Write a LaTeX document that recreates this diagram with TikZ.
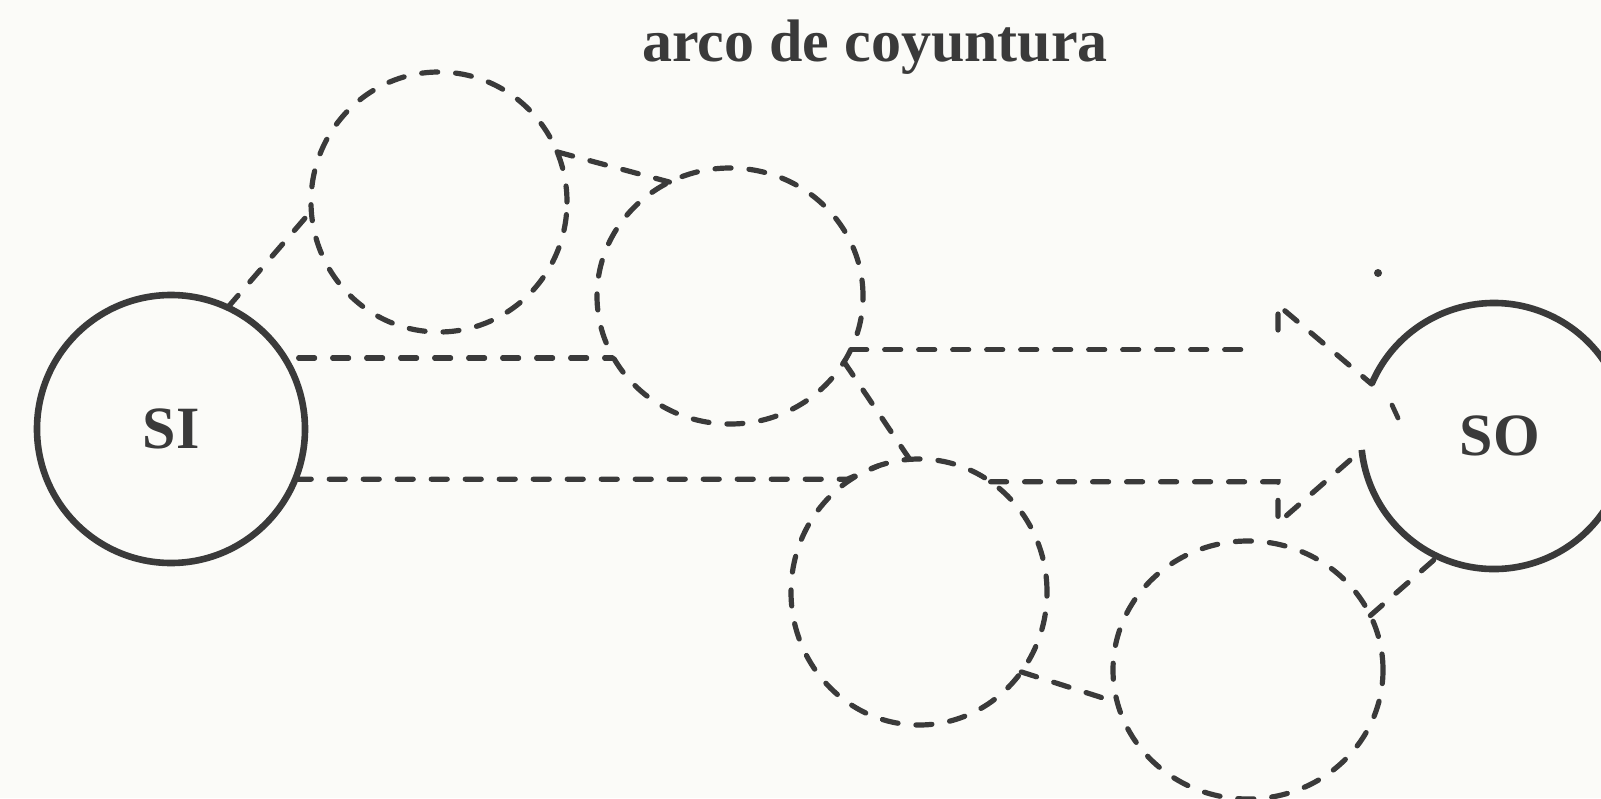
\documentclass[tikz,border=0pt]{standalone}
\usepackage{fontspec}
\setmainfont{Liberation Serif}
\usetikzlibrary{shapes.geometric}
\definecolor{ink}{RGB}{58,58,58}
\definecolor{paper}{RGB}{251,251,248}
\tikzset{
  statefont/.style={text=ink, font=\bfseries\fontsize{30}{36}\selectfont},
  solidcirc/.style={circle, draw=ink, line width=3.3pt, inner sep=0pt, outer sep=0pt, minimum size=#1, statefont},
  dashell/.style={ellipse, draw=ink, line width=2.6pt, line cap=round, dash pattern=on 8pt off 9pt, inner sep=0pt, outer sep=0pt},
  dashline/.style={draw=ink, line width=2.6pt, line cap=round, dash pattern=on 8pt off 9pt},
  solidline/.style={draw=ink, line width=3.3pt}
}
\begin{document}
\begin{tikzpicture}[x=0.5pt,y=-0.5pt]
\fill[paper] (0,0) rectangle (1601,798);
\useasboundingbox (0,0) rectangle (1601,798);
% title
\node[anchor=base, statefont, inner sep=0pt] (title) at (875,61) {arco de coyuntura};
% main states
\node[solidcirc=134pt] (SI) at (171,429) {SI};
\node[circle, inner sep=0pt, outer sep=0pt, minimum size=133pt, statefont] (SO) at (1494,436) {\hspace*{6pt}SO};
\draw[solidline] (SO.157) arc[start angle=157, end angle=-174, radius=66.5pt];
% dashed intermediate states
\node[dashell, minimum width=128pt, minimum height=130pt] (c1) at (439,202) {};
\node[dashell, minimum width=133pt, minimum height=128pt] (c2) at (730,296) {};
\node[dashell, minimum width=128pt, minimum height=133pt] (c3) at (919,592) {};
\node[dashell, minimum width=135pt, minimum height=129pt] (c4) at (1248,670) {};
% free ends
\coordinate (e1) at (1258,352);
\coordinate (u1) at (1278,330);
\coordinate (u2) at (1278,305);
\coordinate (l1) at (1278,480);
\coordinate (l2) at (1278,523);
% connectors
\draw[dashline] (SI.65) -- (c1.184);
\draw[dashline] (c1.23) -- (c2.118);
\draw[dashline, shorten <=7pt] (SI.32) -- (SI.32 -| c2.207.5);
\draw[dashline] (c2.-24) -- (c2.-24 -| e1);
\draw[dashline] (u1) -- (u2) -- (SO.157);
\draw[dashline] (c2.-30) -- (c3.94);
\draw[dashline] (SI.-22) -- ++(552,0) -- (c3.108);
\draw[dashline] (c3.57) -- (c3.57 -| l1) -- (l2) -- (SO.186);
\draw[dashline] (c3.-38) -- (c4.194);
\draw[dashline] (c4.24) -- (SO.-115);
% small marks near SO
\draw[ink, line width=2.4pt, line cap=round] (1392,405) -- (1398,418);
\fill[ink] (1378,273) circle[radius=2pt];
\end{tikzpicture}
\end{document}
